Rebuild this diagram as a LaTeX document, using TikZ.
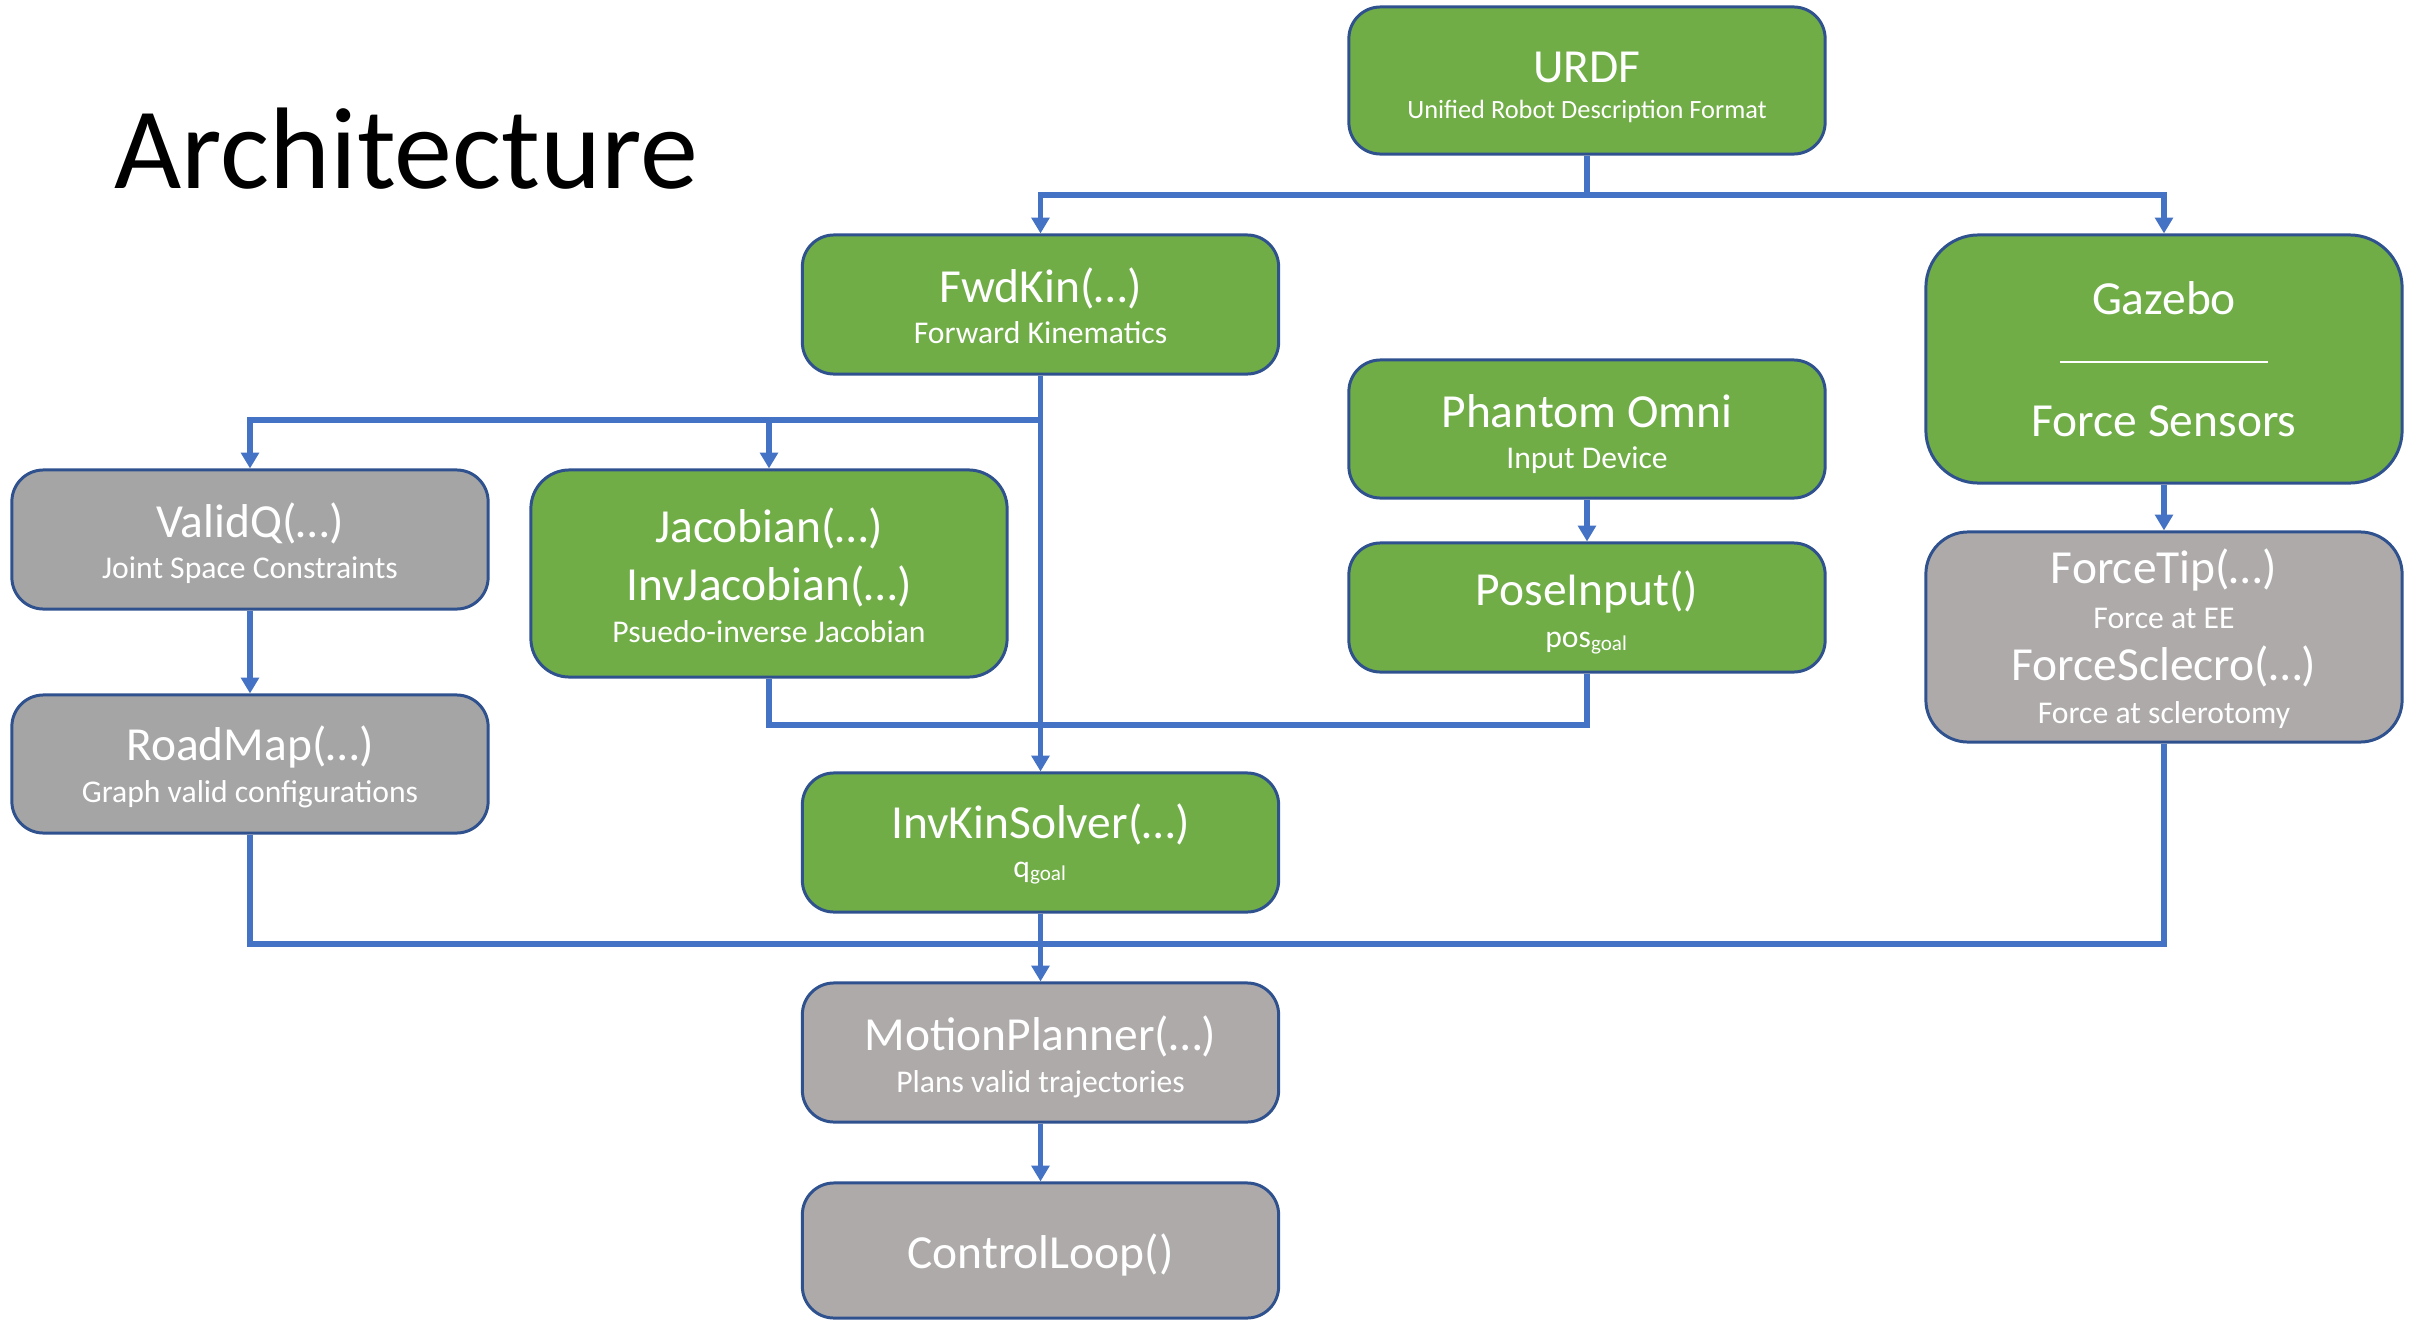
\documentclass[tikz,border=0pt]{standalone}
\usepackage{fontspec}
\setmainfont{Carlito}
\usetikzlibrary{arrows.meta}
\definecolor{grn}{HTML}{70AD47}
\definecolor{gryA}{HTML}{A5A5A5}
\definecolor{gryB}{HTML}{AEAAAA}
\definecolor{bordc}{HTML}{2F528F}
\definecolor{linkc}{HTML}{4472C4}
\newcommand{\mainsz}{\fontsize{13.5}{16}\selectfont}
\newcommand{\subsz}{\fontsize{9}{11}\selectfont}
\tikzset{
  box/.style={draw=bordc, line width=0.85pt, rounded corners=9pt, inner sep=0pt,
              minimum width=4.76cm},
  gbox/.style={box, fill=grn},
  abox/.style={box, fill=gryA},
  bbox/.style={box, fill=gryB},
  lbl/.style={anchor=base, inner sep=0pt, text=white},
  conn/.style={draw=linkc, line width=1.7pt},
  arr/.style={conn, -{Triangle[length=4.5pt,width=5pt]}}
}
\begin{document}
\begin{tikzpicture}[x=0.01cm, y=-0.01cm]
\useasboundingbox (0,0) rectangle (2420,1321);

% title
\node[anchor=base west, inner sep=0pt] (title) at (114,188) {\fontsize{33}{40}\selectfont Architecture};

% boxes
\node[gbox, minimum height=1.47cm] (urdf) at (1587,80.5) {};
\node[gbox, minimum height=1.39cm] (fwd) at (1040.5,304.5) {};
\node[gbox, minimum height=2.48cm, rounded corners=15pt] (gazebo) at (2164,359) {};
\node[gbox, minimum height=1.38cm] (phantom) at (1587,429) {};
\node[gbox, minimum height=1.29cm] (pose) at (1587,607.5) {};
\node[abox, minimum height=1.39cm] (validq) at (250,539.5) {};
\node[gbox, minimum height=2.07cm, rounded corners=11pt] (jacob) at (769,573.5) {};
\node[abox, minimum height=1.38cm] (roadmap) at (250,764) {};
\node[bbox, minimum height=2.10cm, rounded corners=12pt] (forcetip) at (2164,637) {};
\node[gbox, minimum height=1.39cm] (invkin) at (1040.5,842.5) {};
\node[bbox, minimum height=1.39cm] (motion) at (1040.5,1052.5) {};
\node[bbox, minimum height=1.35cm] (control) at (1040.5,1250.5) {};

% labels
\node[lbl] (urdfT) at (1587,82) {\mainsz URDF};
\node[lbl] (urdfS) at (1587,118) {\fontsize{7.5}{9}\selectfont Unified Robot Description Format};
\node[lbl] (fwdT) at (1040.5,302) {\mainsz FwdKin(…)};
\node[lbl] (fwdS) at (1040.5,343) {\subsz Forward Kinematics};
\node[lbl] (gazT) at (2164,314) {\mainsz Gazebo};
\draw[white, line width=0.6pt] (2060,362) -- (2268,362);
\node[lbl] (gazS) at (2164,436) {\mainsz Force Sensors};
\node[lbl] (phT) at (1587,427) {\mainsz Phantom Omni};
\node[lbl] (phS) at (1587,468) {\subsz Input Device};
\node[lbl] (poseT) at (1587,605) {\mainsz PoseInput()};
\node[lbl] (poseS) at (1587,647) {\subsz pos\textsubscript{goal}};
\node[lbl] (vqT) at (250,537) {\mainsz ValidQ(…)};
\node[lbl] (vqS) at (250,578) {\subsz Joint Space Constraints};
\node[lbl] (jT1) at (769,542) {\mainsz Jacobian(…)};
\node[lbl] (jT2) at (769,600) {\mainsz InvJacobian(…)};
\node[lbl] (jS) at (769,642) {\subsz Psuedo-inverse Jacobian};
\node[lbl] (rmT) at (250,760) {\mainsz RoadMap(…)};
\node[lbl] (rmS) at (250,802) {\subsz Graph valid configurations};
\node[lbl] (ftT1) at (2164,583) {\mainsz ForceTip(…)};
\node[lbl] (ftS1) at (2164,628) {\subsz Force at EE};
\node[lbl] (ftT2) at (2164,680) {\mainsz ForceSclecro(…)};
\node[lbl] (ftS2) at (2164,723) {\subsz Force at sclerotomy};
\node[lbl] (ikT) at (1040.5,838) {\mainsz InvKinSolver(…)};
\node[lbl] (ikS) at (1040.5,877) {\subsz q\textsubscript{goal}};
\node[lbl] (mpT) at (1040.5,1050) {\mainsz MotionPlanner(…)};
\node[lbl] (mpS) at (1040.5,1092) {\subsz Plans valid trajectories};
\node[lbl] (clT) at (1040.5,1268) {\mainsz ControlLoop()};

% bus junctions
\coordinate (busU) at (1587,195);
\coordinate (busF) at (1040.5,420);
\coordinate (busJl) at (769,725);
\coordinate (busJr) at (1587,725);
\coordinate (busBl) at (250,944);
\coordinate (busBr) at (2164,944);

% connectors
\draw[conn] (urdf.south) -- (busU);
\draw[arr] (busU) -| (fwd.north);
\draw[arr] (busU) -| (gazebo.north);
\draw[arr] (fwd.south) -- (invkin.north);
\draw[arr] (busF) -| (validq.north);
\draw[arr] (busF) -| (jacob.north);
\draw[arr] (validq.south) -- (roadmap.north);
\draw[arr] (phantom.south) -- (pose.north);
\draw[arr] (gazebo.south) -- (forcetip.north);
\draw[conn] (jacob.south) -- (busJl) -- (busJr) -- (pose.south);
\draw[conn] (roadmap.south) -- (busBl) -- (busBr) -- (forcetip.south);
\draw[arr] (invkin.south) -- (motion.north);
\draw[arr] (motion.south) -- (control.north);
\end{tikzpicture}
\end{document}
